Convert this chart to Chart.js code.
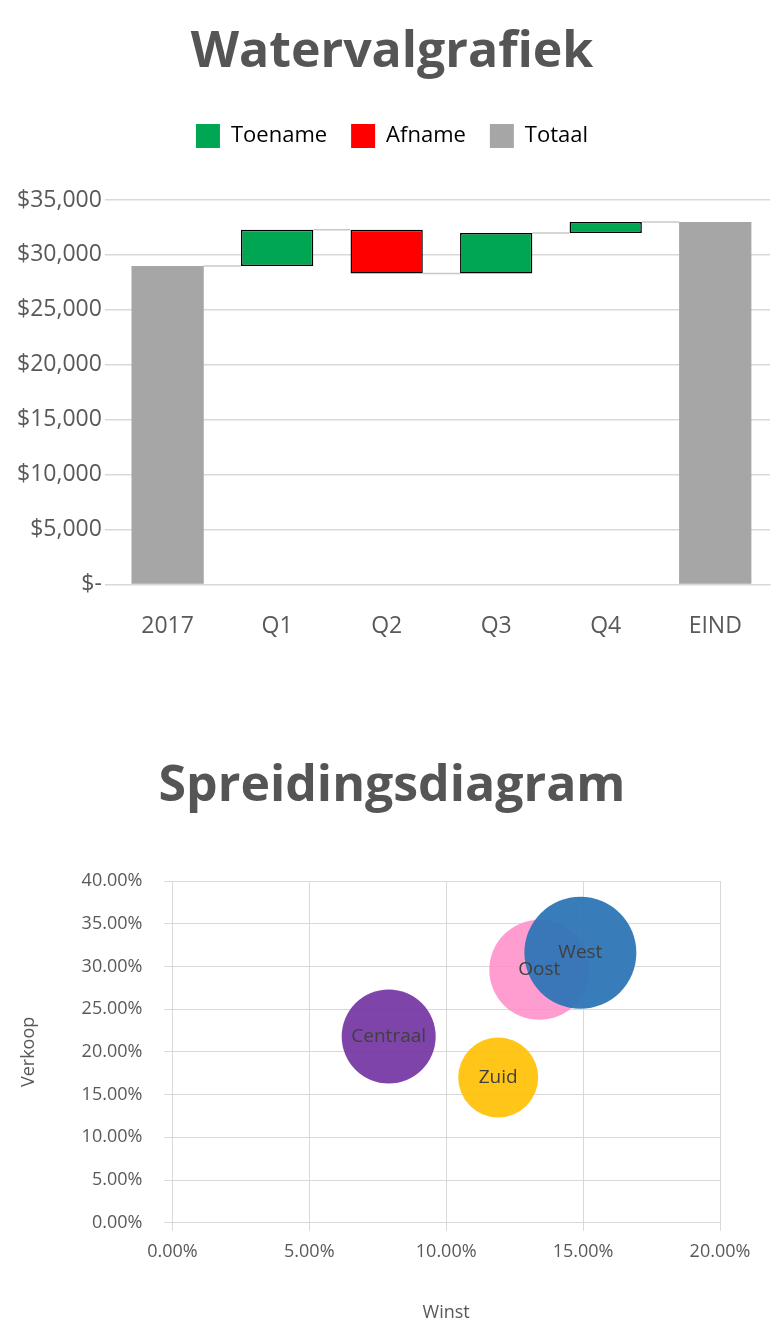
<!DOCTYPE html>
<html>
<head>
<meta charset="utf-8">
<script src="https://cdn.jsdelivr.net/npm/chart.js@4"></script>
<style>
  body { margin: 0; background: #fff; font-family: "Open Sans", sans-serif; }
  h1 { margin: 0; text-align: center; color: #555; font-size: 50px; font-weight: 700; }
  .box { position: relative; width: 784px; }
</style>
</head>
<body>
<h1 style="padding-top:14px;height:86px;line-height:68px">Watervalgrafiek</h1>
<div class="box" style="height:570px"><canvas id="wf"></canvas></div>
<h1 style="padding-top:78px;height:86px;line-height:68px">Spreidingsdiagram</h1>
<div class="box" style="height:503px;margin-top:-9px"><canvas id="sc"></canvas></div>
<script>
const categories = ["2017", "Q1", "Q2", "Q3", "Q4", "EIND"];
const lows  = [0, 29000, 28300, 28300, 32000, 0];
const highs = [29000, 32300, 32300, 32000, 33000, 33000];
const kinds = ["Totaal", "Toename", "Afname", "Toename", "Toename", "Totaal"];
const kindColors = { Toename: "#00a651", Afname: "#ff0000", Totaal: "#a6a6a6" };
const yTicks = [0, 5000, 10000, 15000, 20000, 25000, 30000, 35000];

const regions = ["Centraal", "Zuid", "Oost", "West"];
const winst = [7.9, 11.9, 13.4, 14.9];
const verkoop = [21.8, 17.0, 29.6, 31.6];
const sizes = [47, 40, 50, 56];
const regionColors = ["rgba(112,48,160,0.9)", "rgba(255,192,0,0.9)", "rgba(255,140,200,0.85)", "rgba(46,117,182,0.95)"];

const tickFont = { family: "Open Sans", size: 23 };

// connector lines between waterfall bars
const connectors = {
  id: "connectors",
  beforeInit(chart) {
    const fit = chart.legend.fit;
    chart.legend.fit = function () { fit.bind(chart.legend)(); this.height += 42; };
  },
  afterDatasetsDraw(chart) {
    const meta = chart.getDatasetMeta(0);
    const y = chart.scales.y;
    const ctx = chart.ctx;
    ctx.save();
    ctx.strokeStyle = "#c8c8c8";
    ctx.lineWidth = 1.5;
    for (let i = 0; i < categories.length - 1; i++) {
      const end = kinds[i + 1] === "Afname" ? highs[i + 1] : lows[i + 1] || highs[i + 1];
      const a = meta.data[i], b = meta.data[i + 1];
      const yy = y.getPixelForValue(end);
      ctx.beginPath();
      ctx.moveTo(a.x + a.width / 2, yy);
      ctx.lineTo(b.x - b.width / 2, yy);
      ctx.stroke();
    }
    ctx.restore();
  }
};

new Chart(document.getElementById("wf"), {
  type: "bar",
  data: {
    labels: categories,
    datasets: [{
      data: categories.map((c, i) => [lows[i], highs[i]]),
      backgroundColor: kinds.map(k => kindColors[k]),
      borderColor: kinds.map(k => k === "Totaal" ? "rgba(0,0,0,0)" : "#000"),
      borderWidth: kinds.map(k => k === "Totaal" ? 0 : 1.5),
      borderSkipped: false,
      barPercentage: 0.66,
      categoryPercentage: 1
    }]
  },
  options: {
    responsive: true, maintainAspectRatio: false, animation: false,
    layout: { padding: { left: 14, right: 14, bottom: 10 } },
    plugins: {
      tooltip: { enabled: false },
      legend: {
        labels: {
          font: { family: "Open Sans", size: 22 }, color: "#595959",
          boxWidth: 24, boxHeight: 24, padding: 24,
          generateLabels: () => ["Toename", "Afname", "Totaal"].map(k => ({
            text: k, fillStyle: kindColors[k], strokeStyle: kindColors[k], lineWidth: 0
          }))
        },
        onClick: null
      }
    },
    scales: {
      x: { grid: { display: false }, border: { color: "#d9d9d9" },
           ticks: { font: tickFont, color: "#595959", padding: 20 } },
      y: { min: 0, max: 35000, border: { display: false },
           grid: { color: "#d9d9d9", lineWidth: 1.5 },
           afterBuildTicks: s => { s.ticks = yTicks.map(v => ({ value: v })); },
           ticks: { font: tickFont, color: "#595959",
             callback: v => v === 0 ? "$-" : "$" + v.toLocaleString("en-US") } }
    }
  },
  plugins: [connectors]
});

const bubbleLabels = {
  id: "bubbleLabels",
  afterDatasetsDraw(chart) {
    const meta = chart.getDatasetMeta(0);
    const ctx = chart.ctx;
    ctx.save();
    ctx.font = "19px 'Open Sans'";
    ctx.fillStyle = "#404040";
    ctx.textAlign = "center"; ctx.textBaseline = "middle";
    meta.data.forEach((p, i) => ctx.fillText(regions[i], p.x, p.y));
    ctx.restore();
  }
};

const small = { family: "Open Sans", size: 18 };
new Chart(document.getElementById("sc"), {
  type: "bubble",
  data: {
    datasets: [{
      data: regions.map((r, i) => ({ x: winst[i], y: verkoop[i], r: sizes[i] })),
      backgroundColor: regionColors, borderWidth: 0
    }]
  },
  options: {
    responsive: true, maintainAspectRatio: false, animation: false,
    layout: { padding: { left: 14, right: 64, top: 0, bottom: 0 } },
    plugins: { legend: { display: false }, tooltip: { enabled: false } },
    scales: {
      x: { min: 0, max: 20, grid: { color: "#d9d9d9" }, border: { color: "#d9d9d9" },
           ticks: { stepSize: 5, font: small, color: "#595959", padding: 10, callback: v => v.toFixed(2) + "%" },
           title: { display: true, text: "Winst", font: small, color: "#595959", padding: { top: 30 } } },
      y: { min: 0, max: 40, grid: { color: "#d9d9d9" }, border: { color: "#d9d9d9" },
           ticks: { stepSize: 5, font: small, color: "#595959", padding: 22, callback: v => v.toFixed(2) + "%" },
           title: { display: true, text: "Verkoop", font: small, color: "#595959", padding: { bottom: 20 } } }
    }
  },
  plugins: [bubbleLabels]
});
</script>
</body>
</html>
